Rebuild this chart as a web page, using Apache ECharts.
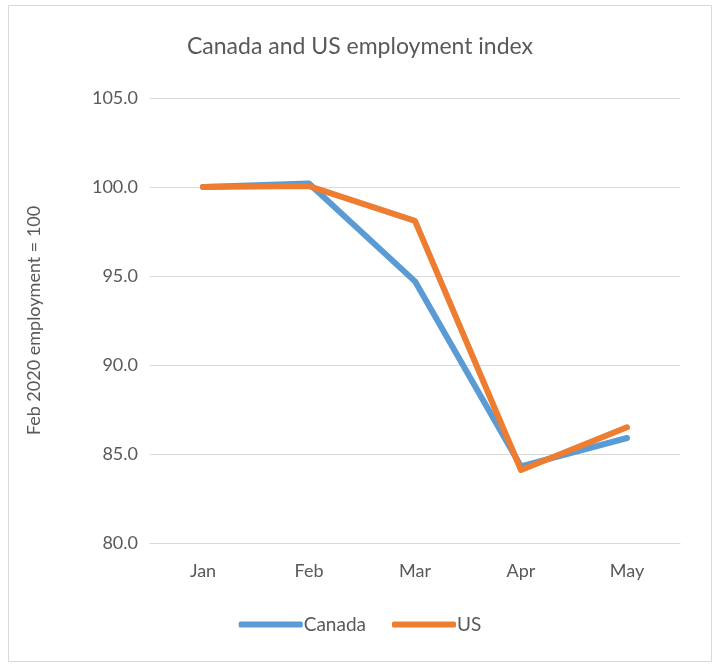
<!DOCTYPE html>
<html>
<head>
<meta charset="utf-8">
<script src="https://cdn.jsdelivr.net/npm/echarts@6/dist/echarts.min.js"></script>
<style>
html,body{margin:0;padding:0;background:#fff;}
#c{width:720px;height:671px;}
</style>
</head>
<body>
<div id="c"></div>
<script>
const categories = ['Jan', 'Feb', 'Mar', 'Apr', 'May'];
const canada = [100.0, 100.2, 94.7, 84.3, 85.9];
const us = [100.0, 100.05, 98.1, 84.1, 86.5];
const yTicks = { min: 80, max: 105, interval: 5 };

const chart = echarts.init(document.getElementById('c'));
const font = 'Lato, "Open Sans", sans-serif';
chart.setOption({
  animation: false,
  backgroundColor: '#fff',
  textStyle: { fontFamily: font },
  title: {
    text: 'Canada and US employment index',
    left: 'center', top: 30,
    textStyle: { fontFamily: font, fontSize: 23, fontWeight: 'normal', color: '#595959' }
  },
  graphic: [{
    type: 'rect', shape: { x: 8.5, y: 5.5, width: 703, height: 656 },
    style: { fill: 'none', stroke: '#d9d9d9', lineWidth: 1 }, silent: true, z: -1
  }],
  legend: {
    bottom: 32, left: 'center', itemWidth: 64, itemHeight: 6, itemGap: 26,
    icon: 'roundRect',
    textStyle: { fontFamily: font, fontSize: 19, color: '#595959', padding: [0, 0, 0, -4] },
    data: ['Canada', 'US']
  },
  grid: { left: 150, right: 40, top: 98, bottom: 128 },
  xAxis: {
    type: 'category', data: categories, boundaryGap: true,
    axisLine: { lineStyle: { color: '#d9d9d9', width: 1 } },
    axisTick: { show: false },
    axisLabel: { fontSize: 18, color: '#595959', margin: 19, fontFamily: font }
  },
  yAxis: {
    type: 'value', min: yTicks.min, max: yTicks.max, interval: yTicks.interval,
    name: 'Feb 2020 employment = 100', nameLocation: 'middle', nameGap: 107,
    nameTextStyle: { fontSize: 18, color: '#595959', fontFamily: font },
    axisLine: { show: false }, axisTick: { show: false },
    axisLabel: { fontSize: 18, color: '#595959', margin: 12, fontFamily: font,
      formatter: v => v.toFixed(1) },
    splitLine: { lineStyle: { color: '#d9d9d9', width: 1 } }
  },
  series: [
    { name: 'Canada', type: 'line', data: canada, symbol: 'none',
      lineStyle: { color: '#5B9BD5', width: 6, cap: 'round', join: 'round' },
      itemStyle: { color: '#5B9BD5' } },
    { name: 'US', type: 'line', data: us, symbol: 'none',
      lineStyle: { color: '#ED7D31', width: 6, cap: 'round', join: 'round' },
      itemStyle: { color: '#ED7D31' } }
  ]
});
</script>
</body>
</html>
